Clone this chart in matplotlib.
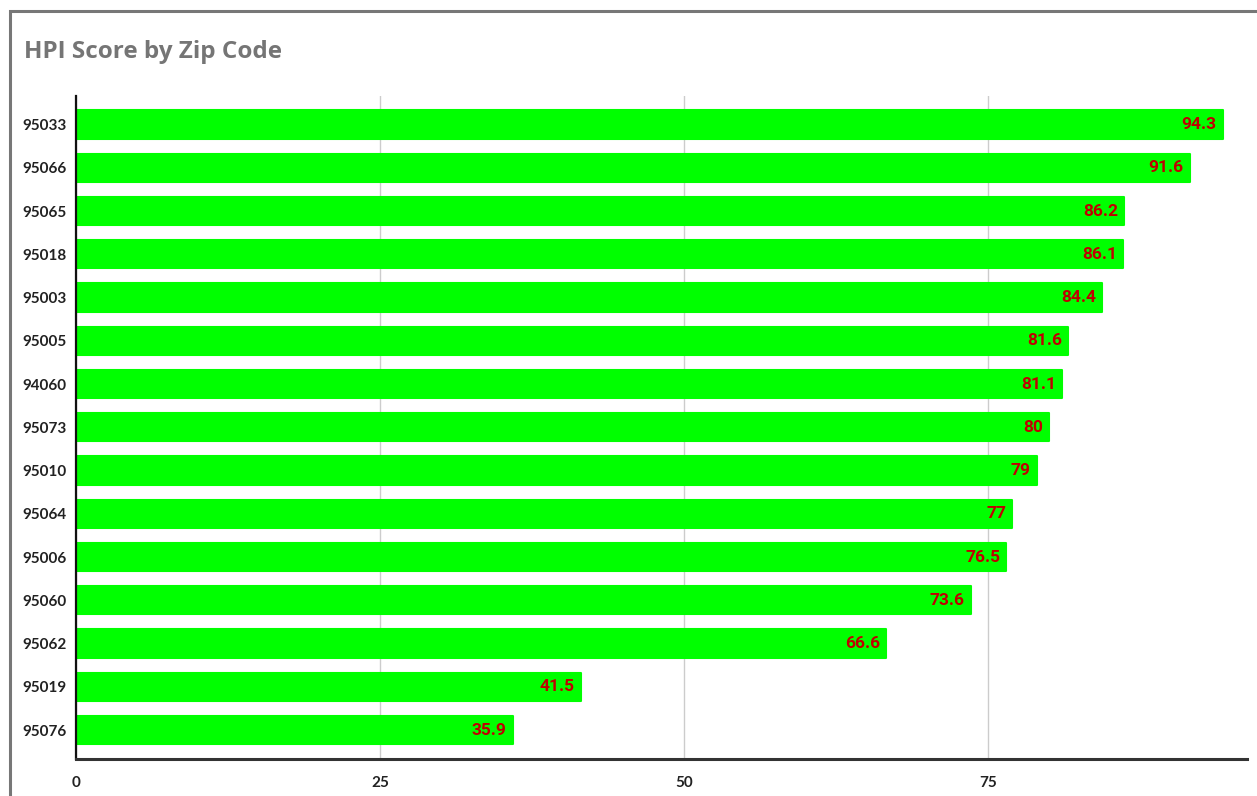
import matplotlib
matplotlib.use("Agg")
import matplotlib.pyplot as plt
from matplotlib.patches import Rectangle

zips = ["95033", "95066", "95065", "95018", "95003", "95005", "94060", "95073",
        "95010", "95064", "95006", "95060", "95062", "95019", "95076"]
scores = [94.3, 91.6, 86.2, 86.1, 84.4, 81.6, 81.1, 80, 79, 77, 76.5, 73.6, 66.6, 41.5, 35.9]
xticks = [0, 25, 50, 75]

W, H = 1257, 796
fig = plt.figure(figsize=(W / 100, H / 100), dpi=100)
ax = fig.add_axes([76 / W, (H - 759) / H, (1247 - 76) / W, (759 - 96) / H])

ypos = list(range(len(zips)))
ax.barh(ypos, scores, height=0.65, color="#00ff00", edgecolor="#00ff00",
        linewidth=1.5, joinstyle="round", zorder=3)
for y, v in zip(ypos, scores):
    ax.text(v - 0.5, y, f"{v:g}", ha="right", va="center", color="#c00000",
            fontsize=12.5, fontweight="bold", family="Roboto", zorder=4)

ax.set_ylim(len(zips) - 1 + 0.67, -0.66)
ax.set_xlim(0, 96.3)
ax.set_yticks(ypos)
ax.set_yticklabels(zips, fontsize=11, fontweight="bold", family="Lato", color="#222222")
ax.set_xticks(xticks)
ax.set_xticklabels([str(t) for t in xticks], fontsize=11, fontweight="bold",
                   family="Lato", color="#222222")
ax.tick_params(axis="both", length=0)
ax.tick_params(axis="y", pad=7)
ax.tick_params(axis="x", pad=12)
ax.grid(axis="x", color="#cccccc", linewidth=1, zorder=0)
ax.set_axisbelow(True)
for s in ["top", "right"]:
    ax.spines[s].set_visible(False)
ax.spines["left"].set_color("#111111")
ax.spines["left"].set_linewidth(1.6)
ax.spines["bottom"].set_color("#333333")
ax.spines["bottom"].set_linewidth(2.2)
ax.spines["left"].set_zorder(5)
ax.spines["bottom"].set_zorder(5)

fig.text(24 / W, 1 - 52 / H, "HPI Score by Zip Code", ha="left", va="center",
         fontsize=17.5, fontweight="bold", family="Open Sans", color="#757575")

border = Rectangle((10 / W, -0.1), 1.2, (H - 11) / H + 0.1, transform=fig.transFigure,
                   fill=False, edgecolor="#777777", linewidth=2.2, clip_on=False)
fig.patches.append(border)

fig.savefig("out.png", dpi=100)
